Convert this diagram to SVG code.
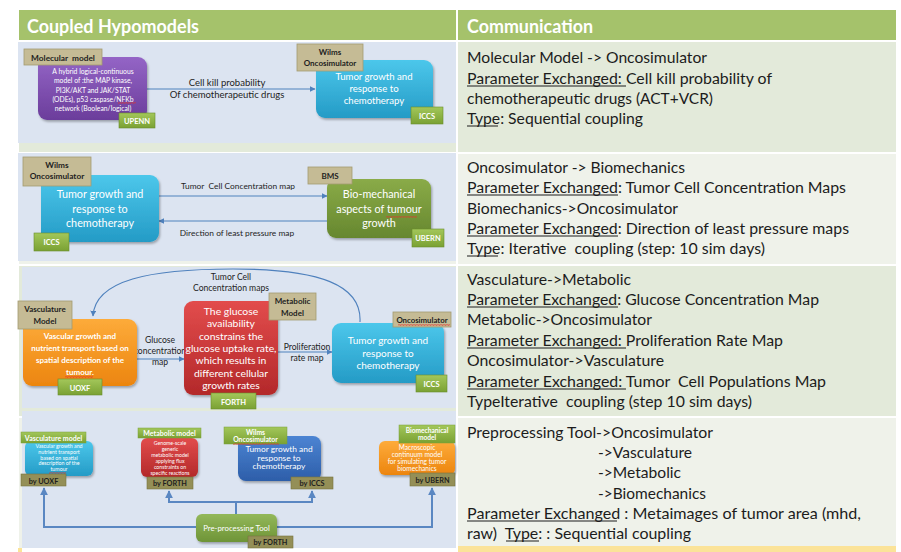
<svg xmlns="http://www.w3.org/2000/svg" width="901" height="552" viewBox="0 0 901 552">
  <defs>
    <style>
      text { font-family: Lato, "Liberation Sans", sans-serif; }
      .cap { font-size: 15px; fill: #1c1c1c; white-space: pre; }
      .hd { font-size: 19px; font-weight: bold; fill: #ffffff; }
      .ul { stroke: #1c1c1c; stroke-width: 1; }
      .tan { fill: #c5bb95; stroke: #a49b70; stroke-width: 0.8; }
      .badge { fill: url(#gBadge); stroke: #6a8c2c; stroke-width: 0.6; }
      .glbl { fill: url(#gBadge); stroke: #79a03a; stroke-width: 0.5; }
      .olv { fill: #948f57; stroke: #77733f; stroke-width: 0.6; }
      .tb { font-weight: bold; fill: #1e1e1e; text-anchor: middle; white-space: pre; }
      .wb { font-weight: bold; fill: #ffffff; text-anchor: middle; white-space: pre; }
      .wt { fill: #ffffff; text-anchor: middle; }
      .lk { fill: #1e1e1e; text-anchor: middle; white-space: pre; }
      .wire { fill: none; stroke: #4f81bd; stroke-width: 1.1; }
      .pipe { fill: none; stroke: #5a87c2; stroke-width: 2; }
      .pic { fill: #dce4f1; }
      .sq { fill: url(#squiggle); }
    </style>
    <linearGradient id="gBadge" x1="0" y1="0" x2="0" y2="1">
      <stop offset="0" stop-color="#a3c75a"/>
      <stop offset="1" stop-color="#7aa133"/>
    </linearGradient>
    <linearGradient id="gPurple" x1="0" y1="0" x2="0" y2="1">
      <stop offset="0" stop-color="#9465c6"/>
      <stop offset="1" stop-color="#6b3d9b"/>
    </linearGradient>
    <linearGradient id="gCyan" x1="0" y1="0" x2="0" y2="1">
      <stop offset="0" stop-color="#4cc7eb"/>
      <stop offset="1" stop-color="#249bc6"/>
    </linearGradient>
    <linearGradient id="gOlive" x1="0" y1="0" x2="0" y2="1">
      <stop offset="0" stop-color="#8aab48"/>
      <stop offset="1" stop-color="#66872f"/>
    </linearGradient>
    <linearGradient id="gOrange" x1="0" y1="0" x2="0" y2="1">
      <stop offset="0" stop-color="#fdab3a"/>
      <stop offset="1" stop-color="#ec850f"/>
    </linearGradient>
    <linearGradient id="gRed" x1="0" y1="0" x2="0" y2="1">
      <stop offset="0" stop-color="#e24c4c"/>
      <stop offset="1" stop-color="#b3292a"/>
    </linearGradient>
    <linearGradient id="gBlue" x1="0" y1="0" x2="0" y2="1">
      <stop offset="0" stop-color="#4c84d3"/>
      <stop offset="1" stop-color="#2d5ea9"/>
    </linearGradient>
    <linearGradient id="gTool" x1="0" y1="0" x2="0" y2="1">
      <stop offset="0" stop-color="#93b85a"/>
      <stop offset="1" stop-color="#6e9437"/>
    </linearGradient>
    <filter id="sh" x="-10%" y="-10%" width="130%" height="130%">
      <feDropShadow dx="1.2" dy="1.8" stdDeviation="1.2" flood-color="#000000" flood-opacity="0.3"/>
    </filter>
    <marker id="ah" viewBox="0 0 10 10" refX="9" refY="5" markerWidth="6" markerHeight="6" orient="auto" markerUnits="userSpaceOnUse">
      <path d="M0,0 L10,5 L0,10 z" fill="#4f81bd"/>
    </marker>
    <marker id="ahb" viewBox="0 0 10 10" refX="9" refY="5" markerWidth="4" markerHeight="4" orient="auto">
      <path d="M0,0 L10,5 L0,10 z" fill="#5a87c2"/>
    </marker>
    <pattern id="squiggle" width="3" height="2" patternUnits="userSpaceOnUse">
      <path d="M0,1.6 L0.75,0.4 L1.5,1.6 L2.25,0.4 L3,1.6" fill="none" stroke="#e0302c" stroke-width="0.6"/>
    </pattern>
  </defs>

  <rect width="901" height="552" fill="#ffffff"/>

  <!-- table header -->
  <g id="table-header">
    <rect x="19" y="10" width="437" height="30" fill="#a5c26b"/>
    <rect x="458" y="10" width="438" height="30" fill="#a5c26b"/>
    <text class="hd" x="27" y="33" textLength="172" lengthAdjust="spacingAndGlyphs">Coupled Hypomodels</text>
    <text class="hd" x="467" y="33" textLength="126" lengthAdjust="spacingAndGlyphs">Communication</text>
  </g>

  <!-- table cells -->
  <g id="table-cells">
    <rect x="19" y="42" width="437" height="110" fill="#e3eada"/>
    <rect x="458" y="42" width="438" height="110" fill="#e3eada"/>
    <rect x="19" y="154" width="437" height="110" fill="#eff2ea"/>
    <rect x="458" y="154" width="438" height="110" fill="#eff2ea"/>
    <rect x="19" y="266" width="437" height="150" fill="#e3eada"/>
    <rect x="458" y="266" width="438" height="150" fill="#e3eada"/>
    <rect x="19" y="418" width="437" height="130" fill="#eff2ea"/>
    <rect x="458" y="418" width="438" height="128" fill="#eff2ea"/>
    <rect x="458" y="546" width="438" height="6" fill="#fbe398"/>
    <rect x="18" y="548" width="4" height="4" fill="#fbe398"/>
  </g>

  <!-- ===== panel 1: molecular model -> oncosimulator ===== -->
  <rect class="pic" x="18" y="42" width="438" height="101"/>
  <g id="connectors-1">
    <line class="wire" x1="147" y1="89" x2="315" y2="89" marker-end="url(#ah)"/>
    <text class="lk" x="227" y="86" font-size="9.5">Cell kill probability</text>
    <text class="lk" x="227" y="98" font-size="9.5">Of chemotherapeutic drugs</text>
  </g>
  <g id="molecular-model">
    <rect x="38" y="57" width="109" height="63" rx="9" fill="url(#gPurple)" filter="url(#sh)"/>
    <g class="wt" font-size="6.8">
      <text x="93" y="73.5">A hybrid logical-continuous</text>
      <text x="93" y="83">model of :the MAP kinase,</text>
      <text x="93" y="92.5">PI3K/AKT and JAK/STAT</text>
      <text x="93" y="101.5">(ODEs), p53 caspase/NFKb</text>
      <text x="93" y="110.5">network (Boolean/logical)</text>
    </g>
    <rect class="sq" x="118" y="102" width="18" height="2"/>
    <rect class="tan" x="24" y="49" width="78" height="16"/>
    <text class="tb" x="63" y="60.5" font-size="8.3">Molecular  model</text>
    <rect class="badge" x="119" y="113" width="36" height="15"/>
    <text class="wb" x="137" y="123.5" font-size="7.5">UPENN</text>
  </g>
  <g id="oncosimulator-1">
    <rect x="316" y="60" width="117" height="58" rx="9" fill="url(#gCyan)" filter="url(#sh)"/>
    <g class="wt" font-size="9.6">
      <text x="374" y="80">Tumor growth and</text>
      <text x="374" y="92">response to</text>
      <text x="374" y="104">chemotherapy</text>
    </g>
    <rect class="tan" x="297" y="44" width="66" height="27"/>
    <text class="tb" x="330" y="55" font-size="8">Wilms</text>
    <text class="tb" x="330" y="65.5" font-size="8">Oncosimulator</text>
    <rect class="badge" x="411" y="107" width="32" height="17"/>
    <text class="wb" x="427" y="118.5" font-size="7.5">ICCS</text>
  </g>

  <!-- ===== panel 2: oncosimulator <-> biomechanics ===== -->
  <rect class="pic" x="18" y="153" width="438" height="108"/>
  <g id="connectors-2">
    <line class="wire" x1="159" y1="196" x2="327" y2="196" marker-end="url(#ah)"/>
    <line class="wire" x1="327" y1="221" x2="159" y2="221" marker-end="url(#ah)"/>
    <text class="lk" x="238" y="189" font-size="8.4">Tumor  Cell Concentration map</text>
    <text class="lk" x="237" y="236" font-size="8.4">Direction of least pressure map</text>
  </g>
  <g id="oncosimulator-2">
    <rect x="41" y="175" width="118" height="67" rx="9" fill="url(#gCyan)" filter="url(#sh)"/>
    <g class="wt" font-size="10.8">
      <text x="100" y="198">Tumor growth and</text>
      <text x="100" y="212.5">response to</text>
      <text x="100" y="227">chemotherapy</text>
    </g>
    <rect class="tan" x="23" y="157" width="68" height="29"/>
    <text class="tb" x="57" y="167.5" font-size="8.3">Wilms</text>
    <text class="tb" x="57" y="178.5" font-size="8.3">Oncosimulator</text>
    <rect class="badge" x="34" y="233" width="35" height="18"/>
    <text class="wb" x="51.5" y="245" font-size="7.5">ICCS</text>
  </g>
  <g id="biomechanics">
    <rect x="327" y="179" width="104" height="59" rx="9" fill="url(#gOlive)" filter="url(#sh)"/>
    <g class="wt" font-size="10.8">
      <text x="379" y="198">Bio-mechanical</text>
      <text x="379" y="212.5">aspects of tumour</text>
      <text x="379" y="227">growth</text>
    </g>
    <rect class="sq" x="386" y="216" width="31" height="2"/>
    <rect class="tan" x="308" y="167" width="44" height="17"/>
    <text class="tb" x="330" y="178.5" font-size="8">BMS</text>
    <rect class="badge" x="412" y="229" width="32" height="18"/>
    <text class="wb" x="428" y="241" font-size="7.5">UBERN</text>
  </g>

  <!-- ===== panel 3: vasculature / metabolic / oncosimulator ===== -->
  <rect class="pic" x="22" y="267" width="434" height="141"/>
  <g id="connectors-3">
    <path class="wire" d="M360,322 C362,285 320,269 233,269 C150,269 95,280 93,316" marker-end="url(#ah)"/>
    <text class="lk" x="231" y="280" font-size="8.6">Tumor Cell</text>
    <text class="lk" x="231" y="291" font-size="8.6">Concentration maps</text>
    <line class="wire" x1="137" y1="359" x2="184" y2="359" marker-end="url(#ah)"/>
    <text class="lk" x="160" y="343" font-size="8.6">Glucose</text>
    <text class="lk" x="160" y="354" font-size="8.6">concentration</text>
    <text class="lk" x="160" y="365" font-size="8.6">map</text>
    <line class="wire" x1="278" y1="352" x2="332" y2="352" marker-end="url(#ah)"/>
    <text class="lk" x="307" y="350" font-size="8.6">Proliferation</text>
    <text class="lk" x="307" y="361" font-size="8.6">rate map</text>
  </g>
  <g id="vasculature-model">
    <rect x="23" y="319" width="114" height="67" rx="9" fill="url(#gOrange)" filter="url(#sh)"/>
    <g class="wb" font-size="8" font-weight="normal">
      <text x="80" y="339">Vascular  growth and</text>
      <text x="80" y="351">nutrient transport based  on</text>
      <text x="80" y="363">spatial description of the</text>
      <text x="80" y="374.5">tumour.</text>
    </g>
    <rect class="sq" x="65" y="376" width="28" height="2"/>
    <rect class="tan" x="18" y="301" width="54" height="28"/>
    <text class="tb" x="45" y="312" font-size="8">Vasculature</text>
    <text class="tb" x="45" y="324" font-size="8">Model</text>
    <rect class="badge" x="58" y="379" width="44" height="16"/>
    <text class="wb" x="80" y="390.5" font-size="7.5">UOXF</text>
  </g>
  <g id="metabolic-model">
    <rect x="184" y="301" width="94" height="94" rx="9" fill="url(#gRed)" filter="url(#sh)"/>
    <g class="wt" font-size="10.4">
      <text x="231" y="315">The glucose</text>
      <text x="231" y="327.3">availability</text>
      <text x="231" y="339.6">constrains the</text>
      <text x="231" y="351.9">glucose uptake rate,</text>
      <text x="231" y="364.2">which results in</text>
      <text x="231" y="376.5">different cellular</text>
      <text x="231" y="388.8">growth rates</text>
    </g>
    <rect class="tan" x="269" y="293" width="47" height="27"/>
    <text class="tb" x="292.5" y="304" font-size="8">Metabolic</text>
    <text class="tb" x="292.5" y="316" font-size="8">Model</text>
    <rect class="badge" x="211" y="393" width="45" height="16"/>
    <text class="wb" x="233.5" y="404.5" font-size="7.5">FORTH</text>
  </g>
  <g id="oncosimulator-3">
    <rect x="332" y="323" width="112" height="60" rx="9" fill="url(#gCyan)" filter="url(#sh)"/>
    <g class="wt" font-size="10">
      <text x="388" y="344">Tumor growth and</text>
      <text x="388" y="356.5">response to</text>
      <text x="388" y="369">chemotherapy</text>
    </g>
    <rect class="tan" x="393" y="312" width="58" height="15"/>
    <text class="tb" x="422" y="323" font-size="7.8">Oncosimulator</text>
    <rect class="sq" x="398" y="324" width="52" height="2"/>
    <rect class="badge" x="416" y="375" width="31" height="17"/>
    <text class="wb" x="431.5" y="386.5" font-size="7.5">ICCS</text>
  </g>

  <!-- ===== panel 4: pre-processing tool feeding all models ===== -->
  <rect class="pic" x="22" y="411" width="434" height="137"/>
  <g id="connectors-4">
    <path class="pipe" d="M236,514 V502 H169 V491" marker-end="url(#ahb)"/>
    <path class="pipe" d="M236,502 H312 V491" marker-end="url(#ahb)"/>
    <path class="pipe" d="M196,527 H44 V488" marker-end="url(#ahb)"/>
    <path class="pipe" d="M277,527 H432 V488" marker-end="url(#ahb)"/>
  </g>
  <g id="vasculature-4">
    <rect x="25" y="441" width="68" height="35" rx="6" fill="url(#gCyan)" filter="url(#sh)"/>
    <g class="wt" font-size="5.3">
      <text x="59" y="448">Vascular growth and</text>
      <text x="59" y="453.8">nutrient transport</text>
      <text x="59" y="459.6">based on spatial</text>
      <text x="59" y="465.4">description of the</text>
      <text x="59" y="471.2">tumour</text>
    </g>
    <rect class="sq" x="49" y="472" width="17" height="2"/>
    <rect class="glbl" x="21" y="432" width="65" height="11"/>
    <text class="wb" x="53.5" y="440.5" font-size="7">Vasculature model</text>
    <rect class="olv" x="21" y="474" width="45" height="12"/>
    <text class="tb" x="43.5" y="483.5" font-size="7.3">by UOXF</text>
  </g>
  <g id="metabolic-4">
    <rect x="141" y="438" width="57" height="39" rx="6" fill="url(#gRed)" filter="url(#sh)"/>
    <g class="wt" font-size="5.2">
      <text x="170" y="445">Genome-scale</text>
      <text x="170" y="451">generic</text>
      <text x="170" y="457">metabolic model</text>
      <text x="170" y="463">applying flux</text>
      <text x="170" y="469">constraints on</text>
      <text x="170" y="475">specific reactions</text>
    </g>
    <rect class="glbl" x="138" y="428" width="63" height="10"/>
    <text class="wb" x="169.5" y="436" font-size="7">Metabolic model</text>
    <rect class="olv" x="147" y="477" width="46" height="12"/>
    <text class="tb" x="170" y="486.3" font-size="7.3">by FORTH</text>
  </g>
  <g id="oncosimulator-4">
    <rect x="238" y="436" width="83" height="45" rx="8" fill="url(#gBlue)" filter="url(#sh)"/>
    <g class="wt" font-size="8.4">
      <text x="279" y="452">Tumor growth and</text>
      <text x="279" y="460.5">response to</text>
      <text x="279" y="469">chemotherapy</text>
    </g>
    <rect class="glbl" x="224" y="427" width="63" height="17"/>
    <text class="wb" x="255.5" y="435" font-size="6.8">Wilms</text>
    <text class="wb" x="255.5" y="442" font-size="6.8">Oncosimulator</text>
    <rect class="sq" x="233" y="443" width="46" height="2"/>
    <rect class="olv" x="291" y="477" width="42" height="12"/>
    <text class="tb" x="312" y="486.3" font-size="7.3">by ICCS</text>
  </g>
  <g id="biomechanical-4">
    <rect x="379" y="441" width="76" height="34" rx="6" fill="url(#gOrange)" filter="url(#sh)"/>
    <g class="wt" font-size="6.6">
      <text x="417" y="450">Macroscopic</text>
      <text x="417" y="457">continuum model</text>
      <text x="417" y="464">for simulating tumor</text>
      <text x="417" y="471">biomechanics</text>
    </g>
    <rect class="glbl" x="399" y="425" width="56" height="18"/>
    <text class="wb" x="427" y="432.5" font-size="6.6">Biomechanical</text>
    <text class="wb" x="427" y="440" font-size="6.6">model</text>
    <rect class="olv" x="410" y="473" width="45" height="13"/>
    <text class="tb" x="432.5" y="482.8" font-size="7.3">by UBERN</text>
  </g>
  <g id="preprocessing-tool">
    <rect x="196" y="514" width="81" height="28" rx="6" fill="url(#gTool)" filter="url(#sh)"/>
    <text class="wt" x="236.5" y="530.5" font-size="7.8">Pre-processing Tool</text>
    <rect class="olv" x="248" y="536" width="45" height="12"/>
    <text class="tb" x="270.5" y="545.2" font-size="7.3">by FORTH</text>
  </g>

  <!-- ===== communication column ===== -->
  <g id="comm-1">
    <text class="cap" x="467" y="63" textLength="240" lengthAdjust="spacingAndGlyphs">Molecular Model -&gt; Oncosimulator</text>
    <text class="cap" x="467" y="84" textLength="305" lengthAdjust="spacingAndGlyphs">Parameter Exchanged: Cell kill probability of</text>
    <text class="cap" x="467" y="104" textLength="246" lengthAdjust="spacingAndGlyphs">chemotherapeutic drugs (ACT+VCR)</text>
    <text class="cap" x="467" y="124" textLength="176" lengthAdjust="spacingAndGlyphs">Type: Sequential coupling</text>
    <line class="ul" x1="467" y1="86" x2="626" y2="86"/>
    <line class="ul" x1="467" y1="126" x2="498" y2="126"/>
  </g>
  <g id="comm-2">
    <text class="cap" x="467" y="173" textLength="218" lengthAdjust="spacingAndGlyphs">Oncosimulator -&gt; Biomechanics</text>
    <text class="cap" x="467" y="193" textLength="379" lengthAdjust="spacingAndGlyphs">Parameter Exchanged: Tumor Cell Concentration Maps</text>
    <text class="cap" x="467" y="214" textLength="211" lengthAdjust="spacingAndGlyphs">Biomechanics-&gt;Oncosimulator</text>
    <text class="cap" x="467" y="234" textLength="382" lengthAdjust="spacingAndGlyphs">Parameter Exchanged: Direction of least pressure maps</text>
    <text class="cap" x="467" y="254" textLength="298" lengthAdjust="spacingAndGlyphs">Type: Iterative  coupling (step: 10 sim days)</text>
    <line class="ul" x1="467" y1="195" x2="618" y2="195"/>
    <line class="ul" x1="467" y1="236" x2="618" y2="236"/>
    <line class="ul" x1="467" y1="256" x2="498" y2="256"/>
  </g>
  <g id="comm-3">
    <text class="cap" x="467" y="285" textLength="164" lengthAdjust="spacingAndGlyphs">Vasculature-&gt;Metabolic</text>
    <text class="cap" x="467" y="305" textLength="352" lengthAdjust="spacingAndGlyphs">Parameter Exchanged: Glucose Concentration Map</text>
    <text class="cap" x="467" y="325" textLength="185" lengthAdjust="spacingAndGlyphs">Metabolic-&gt;Oncosimulator</text>
    <text class="cap" x="467" y="346" textLength="316" lengthAdjust="spacingAndGlyphs">Parameter Exchanged: Proliferation Rate Map</text>
    <text class="cap" x="467" y="366" textLength="197" lengthAdjust="spacingAndGlyphs">Oncosimulator-&gt;Vasculature</text>
    <text class="cap" x="467" y="387" textLength="359" lengthAdjust="spacingAndGlyphs">Parameter Exchanged: Tumor  Cell Populations Map</text>
    <text class="cap" x="467" y="407" textLength="285" lengthAdjust="spacingAndGlyphs">TypeIterative  coupling (step 10 sim days)</text>
    <line class="ul" x1="467" y1="307" x2="618" y2="307"/>
    <line class="ul" x1="467" y1="348" x2="626" y2="348"/>
    <line class="ul" x1="467" y1="389" x2="626" y2="389"/>
  </g>
  <g id="comm-4">
    <text class="cap" x="467" y="438" textLength="246" lengthAdjust="spacingAndGlyphs">Preprocessing Tool-&gt;Oncosimulator</text>
    <text class="cap" x="598" y="458" textLength="94" lengthAdjust="spacingAndGlyphs">-&gt;Vasculature</text>
    <text class="cap" x="598" y="478" textLength="83" lengthAdjust="spacingAndGlyphs">-&gt;Metabolic</text>
    <text class="cap" x="598" y="499" textLength="108" lengthAdjust="spacingAndGlyphs">-&gt;Biomechanics</text>
    <text class="cap" x="467" y="519" textLength="394" lengthAdjust="spacingAndGlyphs">Parameter Exchanged : Metaimages of tumor area (mhd,</text>
    <text class="cap" x="467" y="539" textLength="224" lengthAdjust="spacingAndGlyphs">raw)  Type: : Sequential coupling</text>
    <line class="ul" x1="467" y1="521" x2="617" y2="521"/>
    <line class="ul" x1="506" y1="541" x2="539" y2="541"/>
  </g>
</svg>
